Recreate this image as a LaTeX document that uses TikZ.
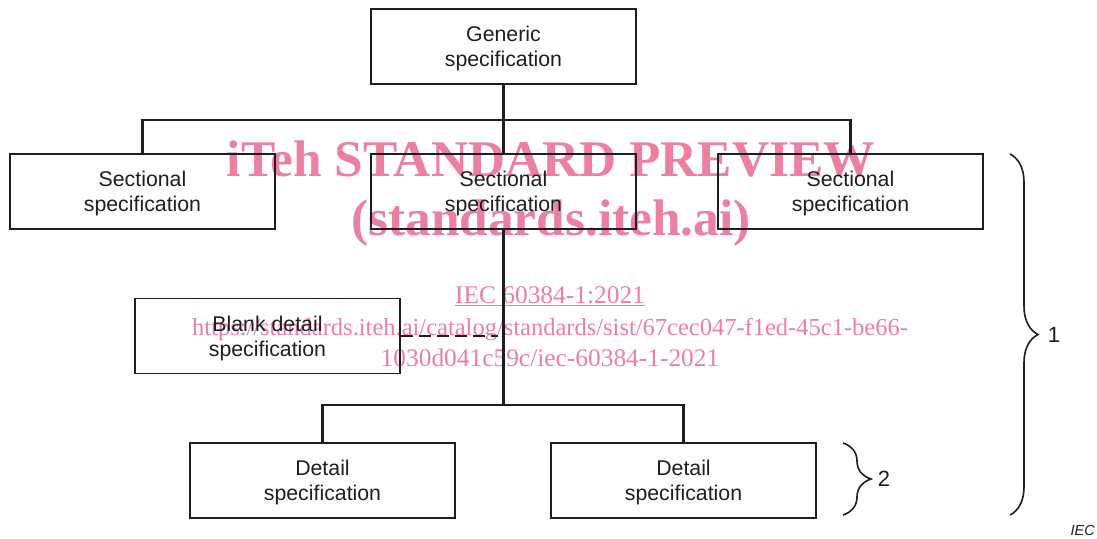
\documentclass[tikz,border=0pt]{standalone}
\usepackage{fontspec}
\setmainfont{Liberation Sans}
\newfontfamily\wmfont{Liberation Serif}
\usetikzlibrary{decorations.pathreplacing}
\definecolor{ink}{RGB}{30,30,30}
\definecolor{wmpink}{RGB}{236,128,160}
\begin{document}
\begin{tikzpicture}[x=1pt,y=-1pt,
  specbox/.style={draw=ink,line width=2.5pt,minimum width=265pt,minimum height=75pt,
    inner sep=0pt,align=center,text=ink,text depth=0pt,font=\fontsize{21.3}{25}\selectfont},
  thinbox/.style={specbox,line width=1.1pt},
  link/.style={draw=ink,line width=2.5pt},
  bracepath/.style={draw=ink,line width=1.6pt,decorate,decoration={brace,amplitude=28pt}},
  tag/.style={text=ink,font=\fontsize{22}{25}\selectfont},
  wm/.style={text=wmpink,font=\wmfont\fontsize{25.4}{31}\selectfont,inner sep=0pt,anchor=base},
  wmbig/.style={wm,font=\wmfont\bfseries\fontsize{51.4}{58}\selectfont}]
\useasboundingbox (0,0) rectangle (1097,538);

% watermark text, set behind the chart
\node[wmbig] (wmA) at (551,176) {iTeh STANDARD PREVIEW};
\node[wmbig] (wmB) at (551,235) {(standards.iteh.ai)};
\node[wm] (wmC) at (550,303) {\underline{IEC 60384-1:2021}};
\node[wm,font=\wmfont\fontsize{24.5}{31}\selectfont] (wmD) at (550,335) {https://standards.iteh.ai/catalog/standards/sist/67cec047-f1ed-45c1-be66-};
\node[wm] (wmE) at (550,366) {1030d041c59c/iec-60384-1-2021};

% specification boxes
\node[specbox] (gen) at (503.5,46.5) {Generic\\specification};
\node[specbox] (secL) at (142.5,191.5) {Sectional\\specification};
\node[specbox] (secM) at (503.5,191.5) {Sectional\\specification};
\node[specbox] (secR) at (850.5,191.5) {Sectional\\specification};
\node[thinbox] (blank) at (267.5,336) {Blank detail\\specification};
\node[specbox] (detL) at (322.5,480.5) {Detail\\specification};
\node[specbox] (detR) at (683.5,480.5) {Detail\\specification};

% tree connectors
\coordinate (busA) at (503.5,120);
\coordinate (busB) at (503.5,405);
\draw[link] (gen.south) -- (busA);
\draw[link] (secL.north) |- (busA) -| (secR.north);
\draw[link] (busA) -- (secM.north);
\draw[link] (secM.south) -- (busB);
\draw[link] (detL.north) |- (busB) -| (detR.north);
\coordinate (tapB) at (498,336);
\draw[draw=ink,line width=1.1pt,dash pattern=on 12pt off 6pt] (blank.east) -- (tapB);

% braces and their labels
\coordinate (b1t) at (1010,154);
\coordinate (b1b) at (1010,515);
\draw[bracepath] (b1t) -- (b1b);
\node[tag] (n1) at (1054,335) {1};
\coordinate (b2t) at (843,443);
\coordinate (b2b) at (843,515);
\draw[bracepath] (b2t) -- (b2b);
\node[tag] (n2) at (884,479) {2};

\node[text=ink,font=\itshape\fontsize{14.5}{16}\selectfont,anchor=base east,inner sep=0pt] (iec) at (1095,535) {IEC};
\end{tikzpicture}
\end{document}
